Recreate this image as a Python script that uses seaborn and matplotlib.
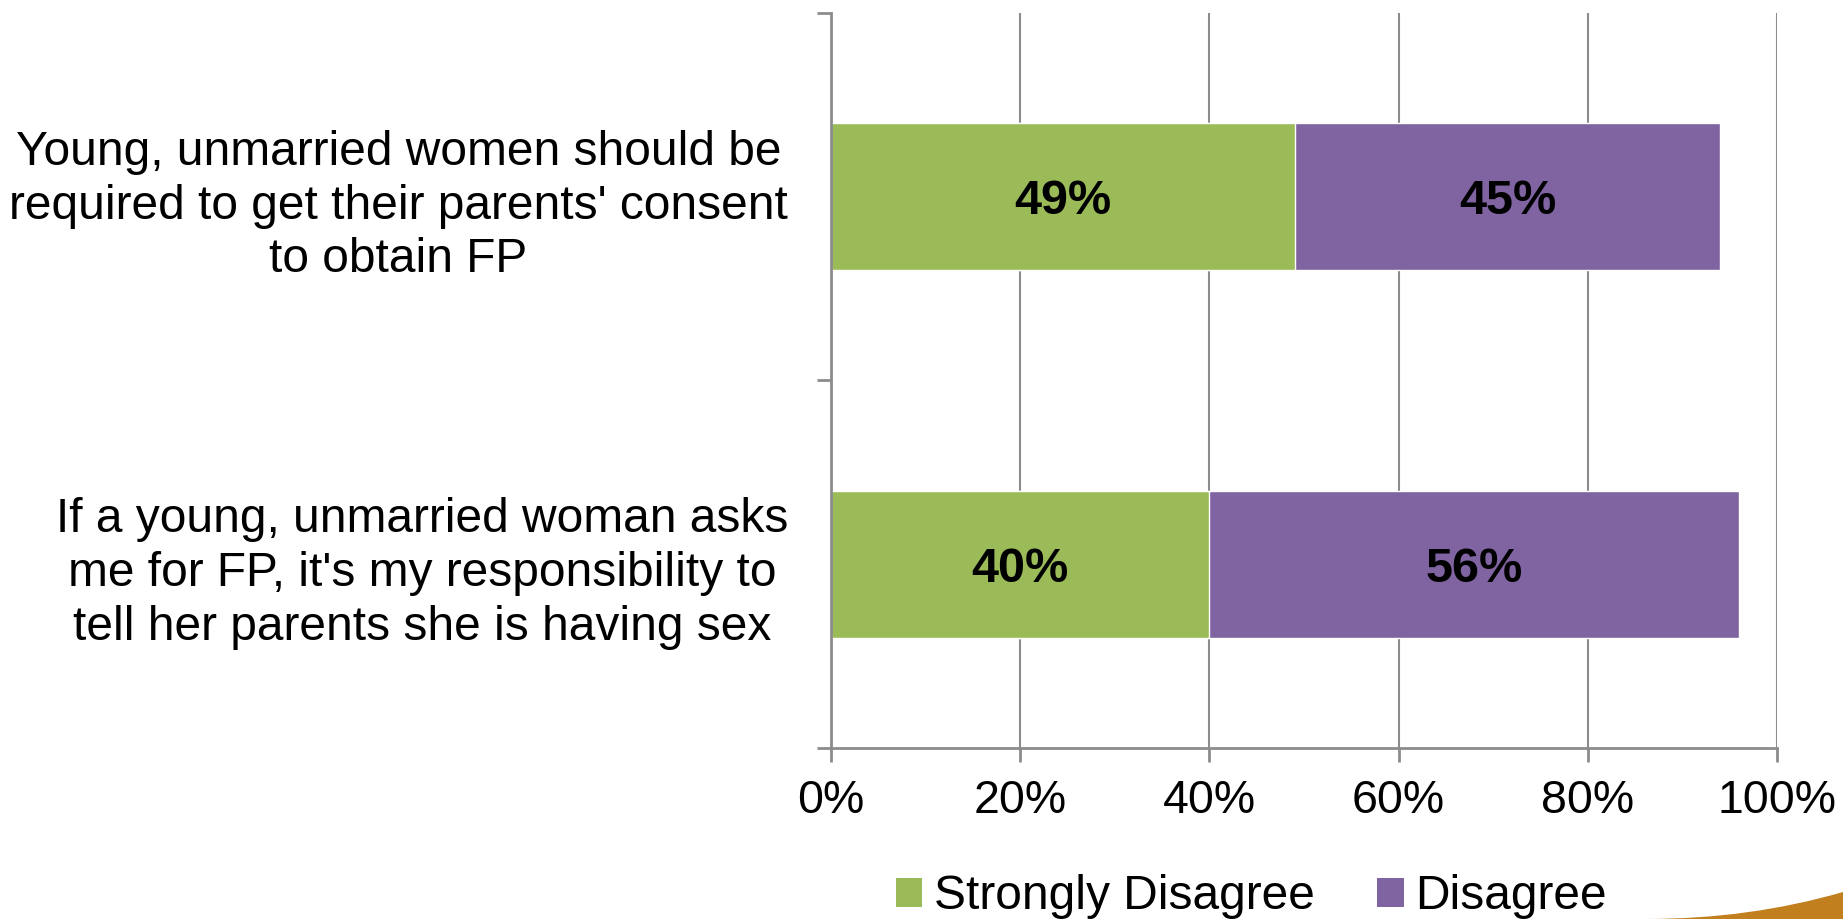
import matplotlib
matplotlib.use('Agg')
import matplotlib.pyplot as plt
from matplotlib.patches import Patch, PathPatch
from matplotlib.path import Path
from matplotlib.ticker import FuncFormatter
import seaborn as sns
import pandas as pd

#chart data:
statements = ["Young, unmarried women should be\nrequired to get their parents' consent\nto obtain FP",
              "If a young, unmarried woman asks\nme for FP, it's my responsibility to\ntell her parents she is having sex"]
strongly_disagree = [49, 40]
disagree = [45, 56]
series_names = ['Strongly Disagree', 'Disagree']
x_ticks = [0, 20, 40, 60, 80, 100]

green = '#9BBB59'
purple = '#8064A2'
grid_gray = '#8C8C8C'

df = pd.DataFrame({'statement': statements,
                   'strong': strongly_disagree,
                   'dis': disagree})
df['total'] = df['strong'] + df['dis']

sns.set_style('white')
plt.rcParams['font.family'] = ['Liberation Sans', 'DejaVu Sans']
plt.rcParams['text.color'] = 'black'
plt.rcParams['xtick.labelcolor'] = 'black'
plt.rcParams['ytick.labelcolor'] = 'black'

fig = plt.figure(figsize=(18.43, 9.19), dpi=100)
ax = fig.add_axes([0.4509, 0.1861, 0.9642 - 0.4509, 0.9859 - 0.1861])

#stacked bars: total behind, first segment in front
sns.barplot(data=df, x='total', y='statement', color=purple, width=0.4,
            saturation=1, orient='h', ax=ax, zorder=3)
sns.barplot(data=df, x='strong', y='statement', color=green, width=0.4,
            saturation=1, orient='h', ax=ax, zorder=4)

#segment labels
for i, row in df.iterrows():
    ax.text(row['strong'] / 2, i, f"{row['strong']}%", ha='center', va='center_baseline',
            fontsize=35, fontweight='bold', color='black', zorder=5)
    ax.text(row['strong'] + row['dis'] / 2, i, f"{row['dis']}%", ha='center', va='center_baseline',
            fontsize=35, fontweight='bold', color='black', zorder=5)

ax.set_xlim(0, 100)
ax.set_ylim(1.5, -0.5)
ax.set_xticks(x_ticks)
ax.xaxis.set_major_formatter(FuncFormatter(lambda v, p: f'{int(v)}%'))
ax.set_yticks([-0.5, 0.5, 1.5], minor=True)
ax.tick_params(axis='y', which='major', length=0, pad=31, labelsize=34.5)
ax.tick_params(axis='y', which='minor', length=10, width=2, color=grid_gray, direction='out', left=True)
ax.tick_params(axis='x', length=10, width=2, color=grid_gray, direction='out', bottom=True, pad=12, labelsize=33.5)
for lbl in ax.get_yticklabels():
    lbl.set_multialignment('center')
    lbl.set_linespacing(1.25)
ax.set_xlabel('')
ax.set_ylabel('')

ax.grid(axis='x', color=grid_gray, linewidth=1.5, zorder=0)
ax.set_axisbelow(True)
for s in ['top', 'right']:
    ax.spines[s].set_visible(False)
for s in ['left', 'bottom']:
    ax.spines[s].set_color(grid_gray)
    ax.spines[s].set_linewidth(2)
    ax.spines[s].set_zorder(6)

#legend
handles = [Patch(facecolor=green, edgecolor='none'), Patch(facecolor=purple, edgecolor='none')]
fig.legend(handles, series_names, loc='center', bbox_to_anchor=(0.679, 0.024), ncol=2,
           frameon=False, fontsize=34.5, handlelength=0.55, handleheight=0.55,
           handletextpad=0.25, columnspacing=1.3)

#orange swoosh in the corner
verts = [(1647 / 1843, 0.0), (1750 / 1843, 0.0), (1.0, 27 / 919), (1.0, 0.0), (1647 / 1843, 0.0)]
codes = [Path.MOVETO, Path.CURVE3, Path.CURVE3, Path.LINETO, Path.CLOSEPOLY]
fig.patches.append(PathPatch(Path(verts, codes), facecolor='#C17F1E', edgecolor='none',
                             transform=fig.transFigure, figure=fig))

fig.savefig('out.png', dpi=100)
